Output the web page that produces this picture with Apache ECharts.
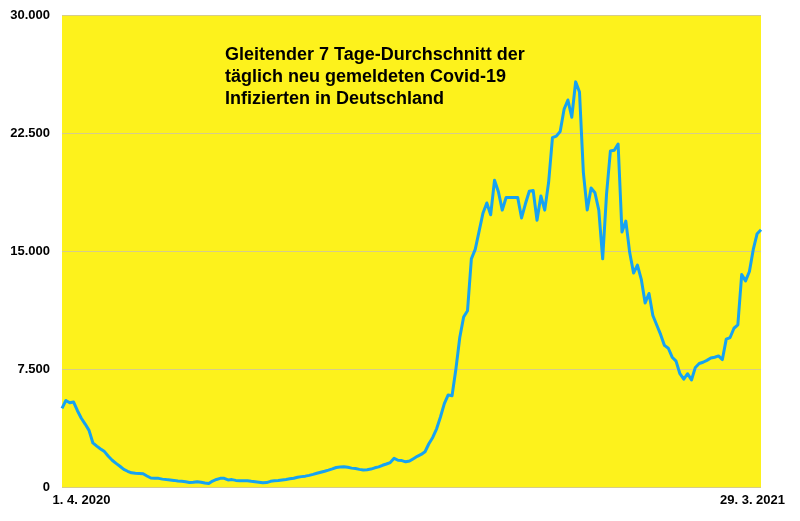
<!DOCTYPE html>
<html>
<head>
<meta charset="utf-8">
<script src="https://cdn.jsdelivr.net/npm/echarts@6/dist/echarts.min.js"></script>
<style>html,body{margin:0;padding:0;background:#fff}#c{width:800px;height:521px}</style>
</head>
<body>
<div id="c"></div>
<script>
// Data: 7-day average of new daily infections, sampled every 2 days
const startDate = '2020-04-01';
const stepDays = 2;
const cases = [
  5000,5500,5350,5400,4850,4370,4000,3600,2800,2600,
  2420,2250,1950,1700,1500,1320,1120,1000,900,870,
  860,840,700,570,550,550,500,470,450,420,
  380,360,330,280,300,340,300,250,220,380,
  480,550,550,450,470,420,400,400,400,360,
  330,300,270,280,360,400,420,450,480,520,
  560,620,660,690,740,800,870,940,1000,1070,
  1150,1240,1270,1290,1250,1200,1170,1120,1080,1100,
  1140,1220,1280,1380,1460,1550,1820,1700,1680,1600,
  1650,1800,1950,2070,2240,2750,3150,3700,4450,5300,
  5850,5800,7500,9500,10800,11200,14500,15100,16250,17400,
  18050,17300,19500,18770,17600,18400,18400,18400,18400,17100,
  18000,18800,18850,16950,18500,17600,19350,22200,22300,22600,
  24000,24600,23500,25750,25100,20000,17600,19000,18700,17600,
  14500,18600,21350,21400,21800,16200,16900,14900,13600,14100,
  13200,11700,12300,10900,10300,9700,9000,8820,8250,8000,
  7200,6850,7200,6800,7600,7850,7930,8050,8200,8250,
  8330,8100,9400,9500,10090,10300,13500,13100,13700,15100,
  16100,16350
];
const yTicks = [0, 7500, 15000, 22500, 30000];
const titleLines = [
  'Gleitender 7 Tage-Durchschnitt der',
  'täglich neu gemeldeten Covid-19',
  'Infizierten in Deutschland'
];

// build category labels (dates) from start date
const categories = [];
const s = new Date(startDate + 'T12:00:00Z');
for (let i = 0; i < cases.length; i++) {
  const d = new Date(s.getTime() + i * stepDays * 86400000);
  categories.push(d.getUTCDate() + '. ' + (d.getUTCMonth() + 1) + '. ' + d.getUTCFullYear());
}
const N = categories.length;
const FONT = 'Liberation Sans, Arial, Helvetica, sans-serif';

const chart = echarts.init(document.getElementById('c'), null, {renderer: 'canvas'});
chart.setOption({
  animation: false,
  backgroundColor: '#ffffff',
  grid: {
    left: 62, right: 39, top: 15, bottom: 34,
    show: true, backgroundColor: '#fdf21c', borderWidth: 0
  },
  title: {
    text: titleLines.join('\n'),
    left: 220, top: 39,
    textStyle: {fontFamily: FONT, fontSize: 18, fontWeight: 'bold', color: '#000', lineHeight: 22}
  },
  xAxis: {
    type: 'category',
    data: categories,
    boundaryGap: false,
    axisLine: {show: false},
    axisTick: {show: false},
    splitLine: {show: false},
    axisLabel: {
      interval: function (idx) { return idx === 0 || idx === N - 1; },
      showMinLabel: true, showMaxLabel: true,
      margin: 7,
      formatter: function (val, idx) { return idx === 0 ? '{l|' + val + '}' : '{r|' + val + '}'; },
      rich: {
        l: {fontFamily: FONT, fontSize: 13, fontWeight: 'bold', color: '#000', padding: [0, 0, 0, 39]},
        r: {fontFamily: FONT, fontSize: 13, fontWeight: 'bold', color: '#000', padding: [0, 17, 0, 0]}
      }
    }
  },
  yAxis: {
    type: 'value',
    min: yTicks[0], max: yTicks[yTicks.length - 1], interval: yTicks[1] - yTicks[0],
    axisLine: {show: false},
    axisTick: {show: false},
    splitLine: {show: true, lineStyle: {color: '#d6cc8a', width: 1.2}},
    axisLabel: {
      margin: 12,
      padding: [4, 0, 0, 0],
      fontFamily: FONT, fontSize: 13, fontWeight: 'bold', color: '#000',
      formatter: function (v) { return String(v).replace(/\B(?=(\d{3})+(?!\d))/g, '.'); }
    }
  },
  series: [{
    type: 'line',
    data: cases,
    showSymbol: false,
    symbol: 'none',
    lineStyle: {color: '#16a2f2', width: 3, join: 'round'},
    z: 3
  }]
});
</script>
</body>
</html>
